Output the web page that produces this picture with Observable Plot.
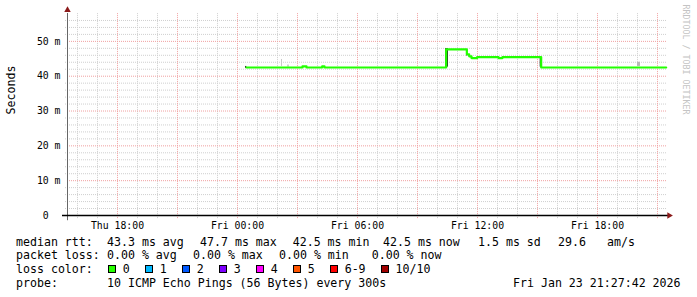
<!DOCTYPE html>
<html><head><meta charset="utf-8">
<script src="https://cdn.jsdelivr.net/npm/d3@7"></script>
<script src="https://cdn.jsdelivr.net/npm/@observablehq/plot@0.6"></script>
<style>
html,body{margin:0;padding:0;background:#fff;}
#wrap{position:relative;width:697px;height:297px;overflow:hidden;font-family:"DejaVu Sans Mono",monospace;background:#fff;}
#chart svg{display:block;}
.seg{position:absolute;font-size:11.6px;line-height:14px;height:14px;white-space:pre;color:#000;display:flex;align-items:center;}
.box{display:inline-block;width:6px;height:6px;border:1px solid #000;}
</style></head>
<body><div id="wrap"><div id="chart"></div></div>
<script>
// ---- data ----
const domainStart = "2026-01-22T15:30Z";
const domainEnd = "2026-01-23T21:30Z";
const yMax = 58;

// median RTT (ms), step changes
const medianTimes = ["2026-01-23T00:27Z","2026-01-23T03:15Z","2026-01-23T03:27Z","2026-01-23T04:14Z","2026-01-23T04:21Z",
  "2026-01-23T10:26Z","2026-01-23T11:28Z","2026-01-23T11:35Z","2026-01-23T11:42Z","2026-01-23T11:59Z",
  "2026-01-23T13:03Z","2026-01-23T13:15Z","2026-01-23T15:11Z","2026-01-23T21:26Z"];
const medianValues = [42.5,42.8,42.5,42.8,42.5,47.7,46.3,45.7,45.2,45.5,45.2,45.5,42.5,42.5];

// smoke (ping spread)
const smokeStart = ["2026-01-23T00:24Z","2026-01-23T02:12Z","2026-01-23T02:30Z","2026-01-23T10:24Z","2026-01-23T11:27Z","2026-01-23T15:08Z","2026-01-23T20:00Z"];
const smokeEnd   = ["2026-01-23T00:28Z","2026-01-23T02:15Z","2026-01-23T02:36Z","2026-01-23T10:33Z","2026-01-23T11:31Z","2026-01-23T15:12Z","2026-01-23T20:09Z"];
const smokeLow   = [42.2,42.8,42.6,42.6,45.8,42.6,42.8];
const smokeHigh  = [42.8,44.8,43.2,47.9,47.5,45.5,44.0];
const smokeShade = ["#333333","#c8c8c8","#d0d0d0","#2a2a2a","#333333","#333333","#b8b8b8"];

const yLabelValues = [0,10,20,30,40,50];
const rttLabels = ["avg","max","min","now","sd"];
const rttValues = [43.3,47.7,42.5,42.5,1.5];
const rttExtra = ["29.6","am/s"];
const lossLabels = ["avg","max","min","now"];
const lossValues = [0,0,0,0];
const lossColorLabels = ["0","1","2","3","4","5","6-9","10/10"];
const lossColors = ["#26ff00","#00b8ff","#0059ff","#7e00ff","#ff00fe","#ff5500","#ff0000","#a10000"];
const probeText = "10 ICMP Echo Pings (56 Bytes) every 300s";
const stampText = "Fri Jan 23 21:27:42 2026";
const watermark = "RRDTOOL / TOBI OETIKER";

// legend layout (pixel columns of the legend pieces)
const rttCols = [16, 107, 200, 292.7, 383, 478, 558, 607];
const lossCols = [16, 107, 193, 279, 371.7];
const rowTops = [234.7, 248, 262, 275.7];

// ---- build ----
const start = new Date(domainStart), end = new Date(domainEnd);
const median = medianTimes.map((t,i)=>({t:new Date(t), v:medianValues[i]}));
const smoke = smokeStart.map((t,i)=>({t1:new Date(t), t2:new Date(smokeEnd[i]), lo:smokeLow[i], hi:smokeHigh[i], c:smokeShade[i]}));
const hours = d3.utcHour.range(start, end);
const minorX = hours.filter(d => d.getUTCHours() % 3 !== 0);
const majorX = hours.filter(d => d.getUTCHours() % 3 === 0);
const labelX = hours.filter(d => d.getUTCHours() % 6 === 0);
const minorY = d3.range(2, yMax, 2).filter(d => d % 10 !== 0);
const majorY = d3.range(10, yMax, 10);
const fmtX = d3.utcFormat("%a %H:%M");
const axisLineX = [{a: d3.utcMinute.offset(start,-15), b: d3.utcMinute.offset(end,6)}];
const arrows = [{x: start, y: 59, r: 0}, {x: d3.utcMinute.offset(end,5), y: 0, r: 90}];

const chart = Plot.plot({
  width: 697, height: 232,
  marginLeft: 67, marginRight: 30, marginTop: 13, marginBottom: 17,
  style: {fontFamily: "DejaVu Sans Mono, monospace", fontSize: "9.8px", background: "#fff", overflow: "visible", color: "#000"},
  x: {type: "utc", domain: [start, end], axis: null},
  y: {domain: [0, yMax], axis: null},
  color: {type: "identity"},
  marks: [
    Plot.ruleY(minorY, {stroke: "#cfcfcf", strokeDasharray: "1,1", x1: d3.utcMinute.offset(start,-6), x2: end}),
    Plot.ruleX(minorX, {stroke: "#cfcfcf", strokeDasharray: "1,1", y1: -0.9, y2: yMax}),
    Plot.ruleY(majorY, {stroke: "#f0a0a0", strokeDasharray: "1,1", x1: start, x2: end}),
    Plot.ruleX(majorX, {stroke: "#f0a0a0", strokeDasharray: "1,1", y1: -0.9, y2: yMax}),
    Plot.rect(smoke, {x1: "t1", x2: "t2", y1: "lo", y2: "hi", fill: "c"}),
    Plot.line(median, {x: "t", y: "v", curve: "step-after", stroke: "#22ff00", strokeWidth: 2.2}),
    Plot.ruleX([start], {y1: -1.5, y2: yMax, stroke: "#666", strokeWidth: 1}),
    Plot.ruleY(axisLineX, {y: () => 0, x1: "a", x2: "b", stroke: "#000", strokeWidth: 1.5}),
    Plot.dot(arrows, {x: "x", y: "y", rotate: "r", symbol: "triangle", r: 2.4, fill: "#8b1a1a", stroke: "none"}),
    Plot.text(yLabelValues, {y: d => d, frameAnchor: "left", textAnchor: "end", dx: -7, fill: "#000",
      text: d => d === 0 ? "0\u00a0\u00a0" : `${d} m`}),
    Plot.text(labelX, {x: d => d, frameAnchor: "bottom", lineAnchor: "middle", dy: 10.5, fill: "#000", text: d => fmtX(d)}),
    Plot.text(["Seconds"], {frameAnchor: "left", rotate: -90, dx: -56, fontSize: 11.6, fill: "#000", text: d => d}),
    Plot.text([watermark], {frameAnchor: "top-right", rotate: 90, textAnchor: "start", dx: 21, dy: -9, fontSize: 8.3, fill: "#c4c4c4", text: d => d})
  ]
});
document.getElementById("chart").appendChild(chart);

// ---- legend ----
const wrap = document.getElementById("wrap");
function seg(left, top, text) {
  const d = document.createElement("div"); d.className = "seg";
  d.style.left = left + "px"; d.style.top = top + "px";
  if (text != null) d.textContent = text;
  wrap.appendChild(d); return d;
}
const rttTexts = ["median rtt:", ...rttValues.map((v,i)=>`${v.toFixed(1)} ms ${rttLabels[i]}`), ...rttExtra];
rttTexts.forEach((t,i) => seg(rttCols[i], rowTops[0], t));
const lossTexts = ["packet loss:", ...lossValues.map((v,i)=>`${v.toFixed(2)} % ${lossLabels[i]}`)];
lossTexts.forEach((t,i) => seg(lossCols[i], rowTops[1], t));
const lr = seg(16, rowTops[2]);
const lt = document.createElement("span"); lt.textContent = "loss color:  "; lr.appendChild(lt);
lossColorLabels.forEach((lab,i) => {
  const b = document.createElement("span"); b.className = "box"; b.style.background = lossColors[i];
  b.style.marginLeft = (i === 0 ? 1 : 15) + "px"; b.style.marginRight = "7px";
  lr.appendChild(b);
  const s = document.createElement("span"); s.textContent = lab; lr.appendChild(s);
});
seg(16, rowTops[3], "probe:");
seg(107, rowTops[3], probeText);
seg(513, rowTops[3], stampText);
</script>
</body></html>
